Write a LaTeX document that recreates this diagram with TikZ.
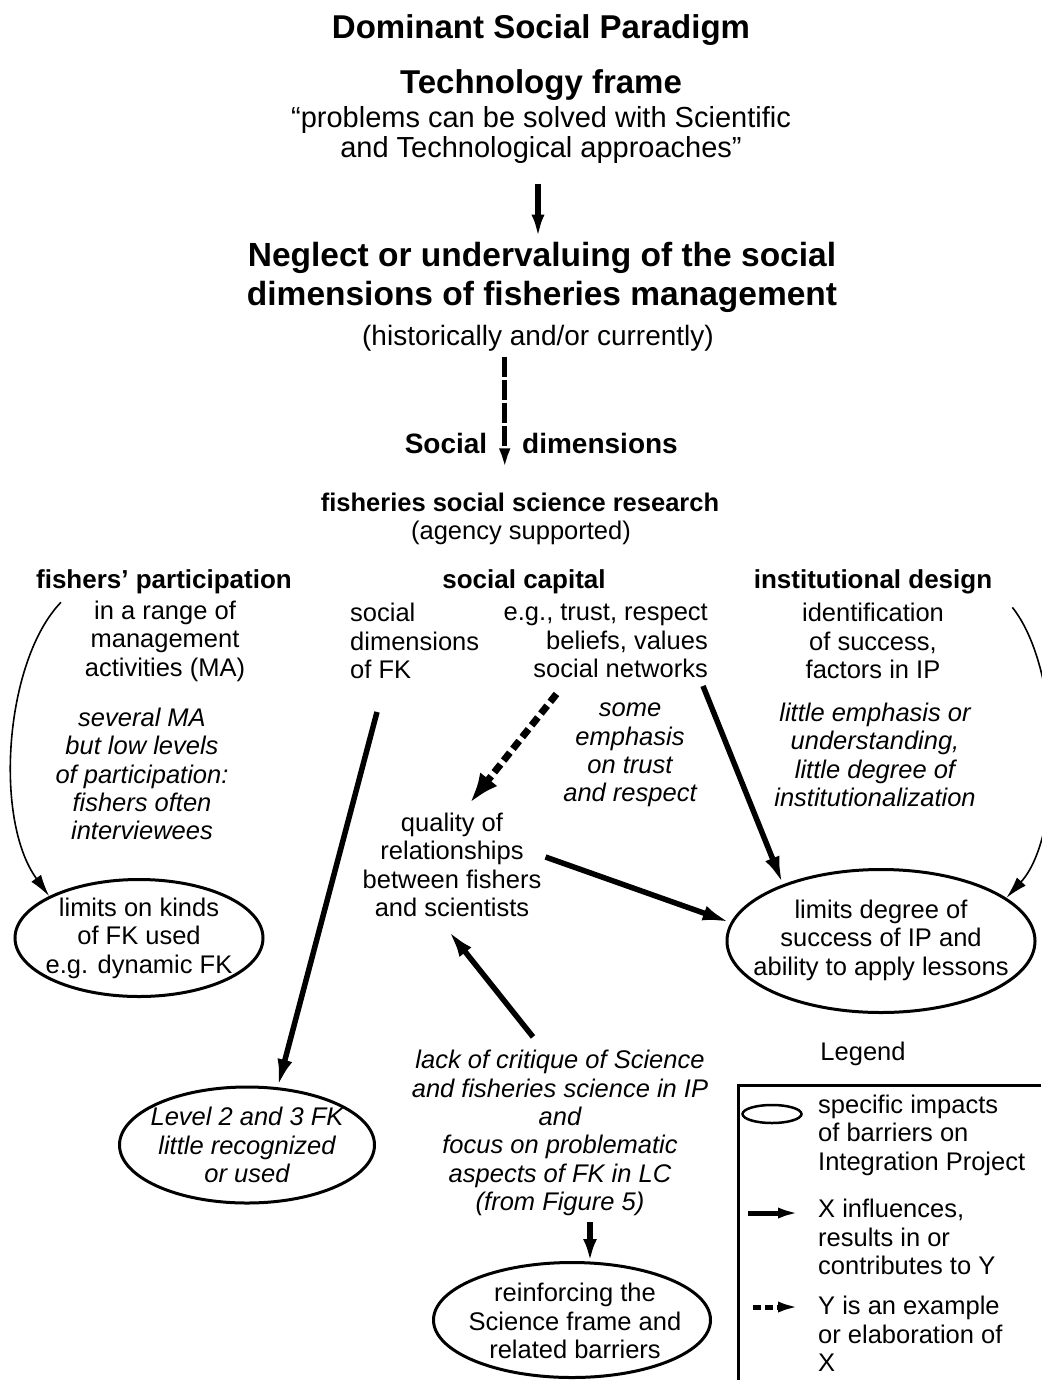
\documentclass[tikz,border=0pt]{standalone}
\usepackage{fontspec}
\setmainfont{Liberation Sans}
\usetikzlibrary{arrows.meta,shapes.geometric,calc}
\begin{document}
\begin{tikzpicture}[x=1pt,y=-1pt,
  txt/.style={inner sep=0pt, align=center, font=\fontsize{25.5}{28.4}\selectfont},
  ital/.style={inner sep=0pt, align=center, font=\fontsize{25.5}{28.4}\selectfont\itshape},
  head/.style={inner sep=0pt, align=center, font=\fontsize{26}{30}\selectfont\bfseries},
  title/.style={inner sep=0pt, align=center, font=\fontsize{33}{39}\selectfont\bfseries},
  oval/.style={ellipse, draw, line width=3pt, inner sep=0pt},
  arr/.style={line width=5.5pt, -{Latex[length=28pt,width=15pt]}},
  darr/.style={line width=7pt, dash pattern=on 10pt off 5pt, -{Latex[length=30pt,width=22pt]}},
  vdarr/.style={line width=5pt, dash pattern=on 20pt off 3pt, -{Latex[length=24pt,width=11pt]}},
  thin/.style={line width=1.6pt, -{Latex[length=22pt,width=12pt]}},
]
\useasboundingbox (0,0) rectangle (1041,1380);
\fill[white] (0,0) rectangle (1041,1380);

% top of the chain
\node[title] (dsp) at (541,30) {Dominant Social Paradigm};
\node[title] (tf) at (541,85) {Technology frame};
\node[txt, font=\fontsize{29}{30}\selectfont] (quote) at (541,135)
  {“problems can be solved with Scientific\\and Technological approaches”};
\node[title, font=\fontsize{33.5}{39}\selectfont\bfseries] (neglect) at (542,277)
  {Neglect or undervaluing of the social\\dimensions of fisheries management};
\node[txt, font=\fontsize{28}{30}\selectfont] (hist) at (538,338) {(historically and/or currently)};
\node[head, font=\fontsize{28}{30}\selectfont\bfseries] (soc) at (446,443) {Social};
\node[head, font=\fontsize{28}{30}\selectfont\bfseries] (dim) at (600,443) {dimensions};
\node[head, font=\fontsize{25.5}{30}\selectfont\bfseries] (fssr) at (520,502) {fisheries social science research};
\node[txt] (agency) at (521,533) {(agency supported)};

% three columns
\node[head] (fp) at (164,582) {fishers’ participation};
\node[txt] (fpb) at (165,641) {in a range of\\management\\activities (MA)};
\node[head] (sc) at (524,582) {social capital};
\node[txt, align=left, anchor=west] (scl) at (350,641) {social\\dimensions\\of FK};
\node[txt, align=right, anchor=east] (scr) at (708,641) {e.g., trust, respect\\beliefs, values\\social networks};
\node[head] (idn) at (873,582) {institutional design};
\node[txt] (idb) at (873,641) {identification\\of success,\\factors in IP};

\node[ital] (fpi) at (142,774) {several MA\\but low levels\\of participation:\\fishers often\\interviewees};
\node[ital] (sci) at (630,755) {some\\emphasis\\on trust\\and respect};
\node[ital] (idi) at (875,755) {little emphasis or\\understanding,\\little degree of\\institutionalization};
\node[txt] (qual) at (452,865) {quality of\\relationships\\between fishers\\and scientists};

% impacts
\node[oval, minimum width=248pt, minimum height=117pt] (e1) at (139,938) {};
\node[txt] (e1t) at (e1) {limits on kinds\\of FK used\\e.g. dynamic FK};
\node[oval, minimum width=308pt, minimum height=143pt] (e2) at (881,941) {};
\node[txt] (e2t) at (881,940) {limits degree of\\success of IP and\\ability to apply lessons};
\node[oval, minimum width=255pt, minimum height=116pt] (e3) at (247,1145) {};
\node[ital] (e3t) at (e3) {Level 2 and 3 FK\\little recognized\\or used};
\node[ital] (lack) at (560,1133) {lack of critique of Science\\and fisheries science in IP\\and\\focus on problematic\\aspects of FK in LC\\(from Figure 5)};
\node[oval, minimum width=277pt, minimum height=115pt] (e4) at (572,1320) {};
\node[txt] (e4t) at (575,1321) {reinforcing the\\Science frame and\\related barriers};

% legend
\node[txt] (legt) at (863,1054) {Legend};
\draw[line width=3pt] (738,1380) -- (738,1085) -- (1041,1085);
\node[oval, line width=2.5pt, minimum width=59pt, minimum height=18pt] (lo) at (772,1114) {};
\node[txt, align=left, anchor=west] (lt1) at (818,1135) {specific impacts\\of barriers on\\Integration Project};
\node[txt, align=left, anchor=west] (lt2) at (818,1237) {X influences,\\results in or\\contributes to Y};
\node[txt, align=left, anchor=west] (lt3) at (818,1334) {Y is an example\\or elaboration of\\X};
\draw[line width=5pt, -{Latex[length=22pt,width=11pt]}] ($(lt2.west)+(-70,-24)$) -- ($(lt2.west)+(-18,-24)$);
\draw[line width=5pt, dash pattern=on 8pt off 4pt, -{Latex[length=22pt,width=11pt]}] ($(lt3.west)+(-65,-27)$) -- ($(lt3.west)+(-18,-27)$);

% connectors
\coordinate (ta) at ($(quote.south)+(-3,20)$);
\draw[line width=6pt, -{Latex[length=23pt,width=13pt]}] (ta) -- ($(ta |- neglect.north)+(0,-4)$);
\coordinate (mid) at ($(soc.east)!0.5!(dim.west)$);
\draw[vdarr] ($(mid |- hist.south)+(0,6)$) -- ($(mid |- soc.south)+(0,19)$);
\draw[arr] ($(scl.south west)+(27,33)$) -- (e3.62);
\draw[darr] ($(scr.south west)+(53,16)$) -- ($(qual.north)+(18,-10)$);
\draw[arr] ($(scr.south east)+(-5,8)$) -- (e2.150);
\draw[arr] ($(qual.east)+(4,-8)$) -- (e2.173);
\draw[arr] ($(lack.north)+(-27,-13)$) -- ($(qual.south)+(-4,13)$);
\coordinate (la) at ($(lack.south)+(30,6)$);
\draw[line width=5.5pt, -{Latex[length=22pt,width=14pt]}] (la) -- (la |- e4.north);
\draw[thin] ($(fp.south west)+(25,8)$) .. controls +(-56,58) and +(-56,-77) .. (e1.155);
\draw[thin] ($(idn.south east)+(20,13)$) .. controls +(50,63) and +(57,-62) .. (e2.19);
\end{tikzpicture}
\end{document}
